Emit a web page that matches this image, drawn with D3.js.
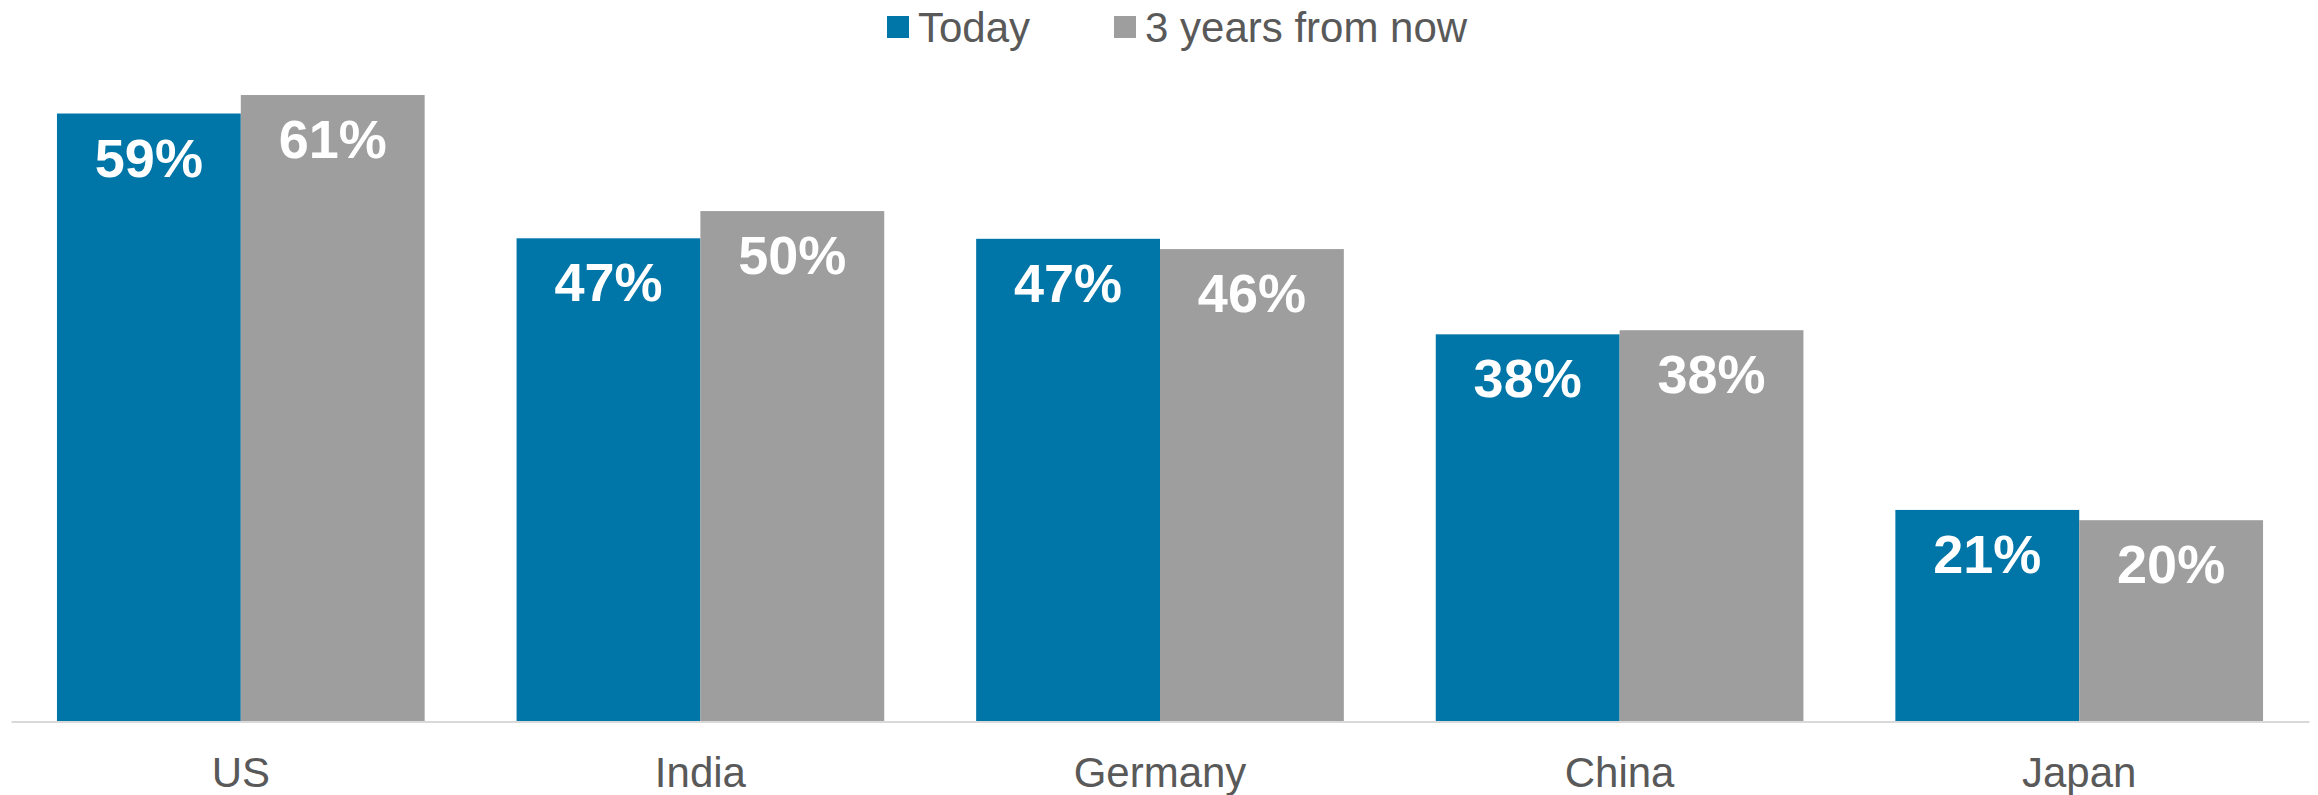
<!DOCTYPE html>
<html>
<head>
<meta charset="utf-8">
<script src="https://cdn.jsdelivr.net/npm/d3@7"></script>
<style>
  html, body { margin: 0; padding: 0; background: #ffffff; }
  svg { display: block; }
</style>
</head>
<body>
<svg id="chart" width="2318" height="795"></svg>
<script>
const categories = ["US", "India", "Germany", "China", "Japan"];
const seriesNames = ["Today", "3 years from now"];
const todayValues = [59.2, 47.05, 47.0, 37.7, 20.6];
const futureValues = [61.0, 49.7, 46.0, 38.1, 19.6];
const seriesColors = ["#0076A8", "#9E9E9E"];

const svg = d3.select("#chart");
const font = "'Liberation Sans', Arial, Helvetica, sans-serif";
const textColor = "#595959";

const baseline = 721.5;
const x0 = d3.scaleBand().domain(categories).range([11, 2309]).paddingInner(0.2).paddingOuter(0.1);
const x1 = d3.scaleBand().domain(seriesNames).range([0, x0.bandwidth()]).padding(0);
const y = d3.scaleLinear().domain([0, 70]).range([baseline, baseline - 70 * 10.27]);
const color = d3.scaleOrdinal().domain(seriesNames).range(seriesColors);

const rows = categories.map((c, i) => ({
  category: c,
  values: [
    { series: seriesNames[0], value: todayValues[i] },
    { series: seriesNames[1], value: futureValues[i] }
  ]
}));

const groups = svg.append("g").selectAll("g")
  .data(rows).join("g")
  .attr("transform", d => `translate(${x0(d.category)},0)`);

groups.selectAll("rect")
  .data(d => d.values).join("rect")
  .attr("x", d => x1(d.series))
  .attr("y", d => y(d.value))
  .attr("width", x1.bandwidth())
  .attr("height", d => y(0) - y(d.value))
  .attr("fill", d => color(d.series));

const fmt = d3.format(".0f");
groups.selectAll("text.val")
  .data(d => d.values).join("text")
  .attr("class", "val")
  .attr("x", d => x1(d.series) + x1.bandwidth() / 2)
  .attr("y", d => y(d.value) + 63)
  .attr("text-anchor", "middle")
  .attr("font-family", font)
  .attr("font-weight", "bold")
  .attr("font-size", 54)
  .attr("fill", "#ffffff")
  .text(d => fmt(d.value) + "%");

// x axis
const axis = svg.append("g")
  .attr("transform", `translate(0,${baseline})`)
  .call(d3.axisBottom(x0).tickSize(0).tickPadding(0));
axis.select(".domain").attr("stroke", "#d9d9d9").attr("stroke-width", 2);
axis.selectAll(".tick text")
  .attr("y", 787 - baseline)
  .attr("dy", 0)
  .attr("font-family", font)
  .attr("font-size", 42)
  .attr("fill", textColor);

// legend
const legendItems = [
  { name: seriesNames[0], x: 887 },
  { name: seriesNames[1], x: 1114 }
];
const legend = svg.append("g").selectAll("g")
  .data(legendItems).join("g")
  .attr("transform", d => `translate(${d.x},0)`);
legend.append("rect")
  .attr("x", 0).attr("y", 16)
  .attr("width", 22).attr("height", 22)
  .attr("fill", d => color(d.name));
legend.append("text")
  .attr("x", 31).attr("y", 41.5)
  .attr("font-family", font)
  .attr("font-size", 42)
  .attr("fill", textColor)
  .text(d => d.name);
</script>
</body>
</html>
